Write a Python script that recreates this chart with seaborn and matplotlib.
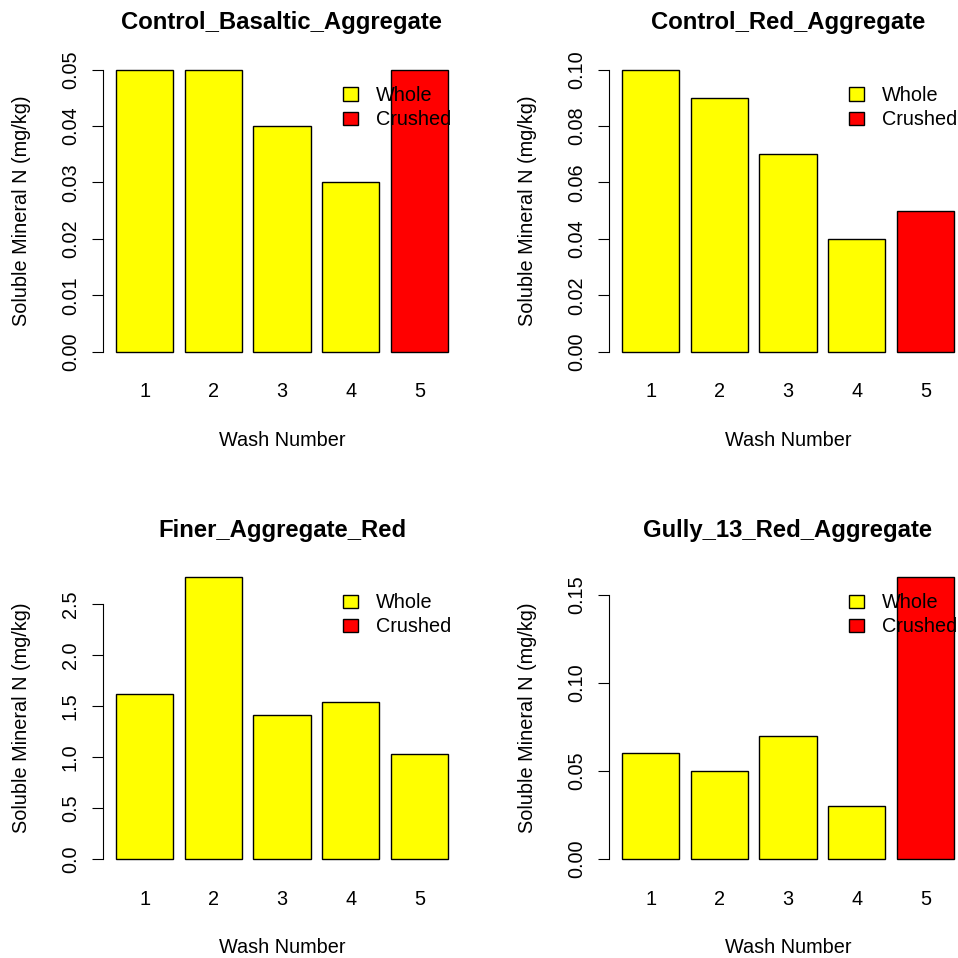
import numpy as np
import pandas as pd
import matplotlib
matplotlib.use('Agg')
import matplotlib.pyplot as plt
import seaborn as sns
from matplotlib.patches import Rectangle

# 数据
wash = ['1', '2', '3', '4', '5']
titles = ['Control_Basaltic_Aggregate', 'Control_Red_Aggregate',
          'Finer_Aggregate_Red', 'Gully_13_Red_Aggregate']
basaltic = [0.05, 0.05, 0.04, 0.03, 0.05]
red = [0.10, 0.09, 0.07, 0.04, 0.05]
finer = [1.62, 2.77, 1.41, 1.54, 1.03]
gully = [0.06, 0.05, 0.07, 0.03, 0.16]
basaltic_trt = ['Whole', 'Whole', 'Whole', 'Whole', 'Crushed']
red_trt = ['Whole', 'Whole', 'Whole', 'Whole', 'Crushed']
finer_trt = ['Whole', 'Whole', 'Whole', 'Whole', 'Whole']
gully_trt = ['Whole', 'Whole', 'Whole', 'Whole', 'Crushed']
yticks_basaltic = ['0.00', '0.01', '0.02', '0.03', '0.04', '0.05']
yticks_red = ['0.00', '0.02', '0.04', '0.06', '0.08', '0.10']
yticks_finer = ['0.0', '0.5', '1.0', '1.5', '2.0', '2.5']
yticks_gully = ['0.00', '0.05', '0.10', '0.15']

series = [basaltic, red, finer, gully]
treatments = [basaltic_trt, red_trt, finer_trt, gully_trt]
yticks = [yticks_basaltic, yticks_red, yticks_finer, yticks_gully]
palette = {'Whole': '#FFFF00', 'Crushed': '#FF0000'}

plt.rcParams['font.family'] = ['Liberation Sans', 'DejaVu Sans']
plt.rcParams['font.size'] = 14.3

W = 958.0
fig = plt.figure(figsize=(9.58, 9.58), dpi=100)

# 面板像素位置（参照原图量取）
ax_left, ax_bottom, ax_w, ax_h = 102.7, 363.0, 358.5, 304.6
dx, dy = 506.0, 507.3

for i in range(4):
    col, row = i % 2, i // 2
    left = (ax_left + col * dx) / W
    bottom = 1 - (ax_bottom + row * dy) / W
    ax = fig.add_axes([left, bottom, ax_w / W, ax_h / W])

    df = pd.DataFrame({'wash': wash, 'value': series[i], 'trt': treatments[i]})
    sns.barplot(data=df, x='wash', y='value', hue='trt', hue_order=['Whole', 'Crushed'],
                order=wash, palette=palette, dodge=False, width=1 / 1.2, saturation=1,
                errorbar=None, edgecolor='black', linewidth=1.0, legend=False, ax=ax)

    vmax = max(series[i])
    ax.set_ylim(-0.04 * vmax, 1.04 * vmax)
    ax.set_xlim(-0.61, 4.61)

    ticks = [float(t) for t in yticks[i]]
    ax.set_yticks(ticks, yticks[i], rotation=90, rotation_mode='anchor',
                  ha='center', va='baseline')
    sns.despine(ax=ax, bottom=True)
    ax.spines['left'].set_bounds(ticks[0], ticks[-1])
    ax.spines['left'].set_linewidth(0.8)
    ax.tick_params(axis='y', length=7.9, width=0.8, pad=11.5)
    ax.tick_params(axis='x', length=0, pad=14)
    ax.patch.set_visible(False)

    ax.set_xlabel('Wash Number', va='baseline')
    ax.xaxis.set_label_coords(0.5, -0.2715)
    ax.set_ylabel('Soluble Mineral N (mg/kg)', va='baseline', ha='center')
    ax.yaxis.set_label_coords(-0.212, 0.5)
    ax.set_title(titles[i], fontsize=17.2, fontweight='bold', y=1.0949, va='baseline', pad=0)

    # R 风格图例（无边框）
    for name, y0, yb in [('Whole', 0.861, 0.861), ('Crushed', 0.781, 0.7826)]:
        ax.add_patch(Rectangle((0.6703, y0), 0.0418, 0.044, transform=ax.transAxes,
                               facecolor=palette[name], edgecolor='black', linewidth=1.0,
                               clip_on=False, zorder=5))
        ax.text(0.7623, yb, name, transform=ax.transAxes, va='baseline', ha='left',
                fontsize=14.3, zorder=6, clip_on=False)

plt.savefig('out.png', dpi=100)
